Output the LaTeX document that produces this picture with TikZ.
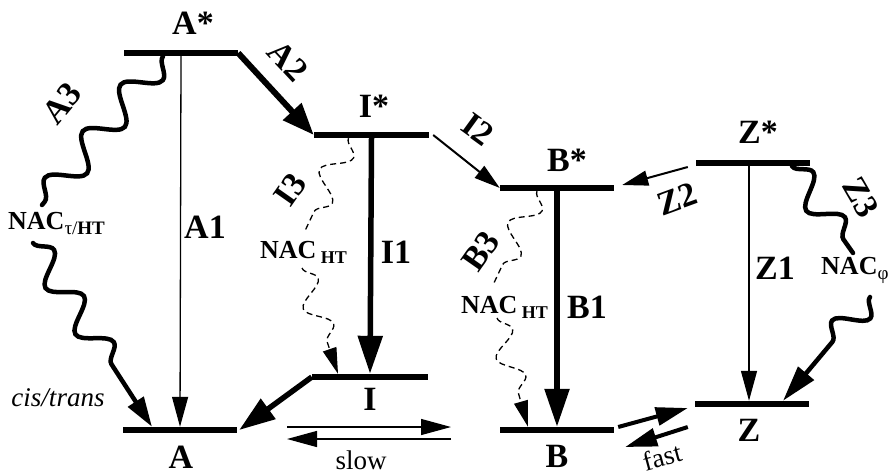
\documentclass[tikz,border=0pt]{standalone}
\usepackage{fontspec}
\setmainfont{Liberation Serif}
\usetikzlibrary{arrows.meta,decorations.pathmorphing,calc}
\begin{document}
\begin{tikzpicture}[x=1pt,y=-1pt,
  bar/.style={fill=black,draw=none,rectangle,inner sep=0pt,minimum height=6pt,minimum width=114pt},
  lbl/.style={font=\fontsize{34}{36}\selectfont\bfseries,inner sep=0pt},
  nac/.style={font=\fontsize{26}{28}\selectfont\bfseries,inner sep=0pt},
  txt/.style={font=\fontsize{27}{29}\selectfont,inner sep=0pt},
  thinarr/.style={line width=1.3pt,-{Triangle[length=30pt,width=16pt]}},
  thickarr/.style={line width=5.5pt,-{Triangle[length=38pt,width=24pt]}},
  midarr/.style={line width=2pt,-{Triangle[length=26pt,width=15pt]}},
  fastarr/.style={line width=4pt,-{Triangle[length=32pt,width=18pt]}},
  wavy/.style={line width=4.5pt,line cap=round,decorate,decoration={snake,amplitude=15pt,segment length=60pt}},
  dwavy/.style={line width=1.3pt,dash pattern=on 6pt off 4pt,decorate,decoration={snake,amplitude=13pt,segment length=50pt}}
]
\useasboundingbox (0,0) rectangle (893,475);

% levels
\node[bar] (As) at (181,53) {};
\node[bar] (A)  at (180,430) {};
\node[bar,minimum width=115pt] (Is) at (371.5,135) {};
\node[bar,minimum width=116pt] (I)  at (370,377) {};
\node[bar] (Bs) at (557,188) {};
\node[bar] (B)  at (557,430) {};
\node[bar] (Zs) at (753,163) {};
\node[bar] (Z)  at (752,404) {};

% level labels
\node[lbl] (lAs) at (193,23) {A*};
\node[lbl] (lA)  at (181,457) {A};
\node[lbl] (lIs) at (374,106) {I*};
\node[lbl] (lI)  at (370,399) {I};
\node[lbl] (lBs) at (567,160) {B*};
\node[lbl] (lB)  at (557,456) {B};
\node[lbl] (lZs) at (758,132) {Z*};
\node[lbl] (lZ)  at (749,430) {Z};

% straight transitions
\draw[thinarr] (As.south) -- (A.north);
\draw[line width=6pt,-{Triangle[length=32pt,width=24pt]}] (As.east) -- (Is.west);
\draw[thickarr] (Is.south) -- (I.north);
\draw[midarr] ([xshift=4pt]Is.east) -- (Bs.west);
\draw[thickarr] (Bs.south) -- (B.north);
\draw[midarr] ([xshift=-8pt,yshift=-4pt]Zs.west) -- ([xshift=8pt,yshift=3pt]Bs.east);
\draw[thinarr] ([xshift=-4pt]Zs.south) -- ([xshift=-3pt]Z.north);
\draw[line width=5.5pt,-{Triangle[length=36pt,width=24pt]}] (I.west) -- ([xshift=2pt]A.east);

% slow
\coordinate (s1) at (287,427);
\coordinate (s2) at (451,427);
\coordinate (s3) at (451,439);
\coordinate (s4) at (287,439);
\draw[thinarr] (s1) -- (s2);
\draw[thinarr] (s3) -- (s4);
\node[txt] (slow) at (361,460) {slow};

% fast
\draw[fastarr] ([xshift=4pt,yshift=3pt]B.east) -- ([xshift=-7pt,yshift=-4pt]Z.west);
\draw[fastarr] ([xshift=-7pt,yshift=-23pt]Z.west) -- ([xshift=11pt,yshift=-17pt]B.east);
\node[txt,rotate=15] (fast) at (662,457) {fast};

% transition labels
\node[lbl] (lA1) at (205,227) {A1};
\node[lbl,rotate=-47] (lA2) at (288,61) {A2};
\node[lbl,rotate=50] (lA3) at (62,103) {A3};
\node[lbl] (lI1) at (396,252) {I1};
\node[lbl,rotate=-36] (lI2) at (478,129) {I2};
\node[lbl,rotate=55] (lI3) at (290,190) {I3};
\node[lbl] (lB1) at (587,307) {B1};
\node[lbl,rotate=55] (lB3) at (481,251) {B3};
\node[lbl] (lZ1) at (775,268) {Z1};
\node[lbl,rotate=20] (lZ2) at (677,199) {Z2};
\node[lbl,rotate=-60] (lZ3) at (861,197) {Z3};

% NAC labels
\node[nac,anchor=west] (nacA) at (8,223) {NAC\raisebox{-5pt}{\fontsize{19}{19}\selectfont\mdseries τ/\textbf{HT}}};
\node[nac,anchor=east] (nacI) at (347,252) {NAC\,\raisebox{-5pt}{\fontsize{18}{18}\selectfont HT}};
\node[nac,anchor=east] (nacB) at (548,307) {NAC\,\raisebox{-5pt}{\fontsize{18}{18}\selectfont HT}};
\node[nac,anchor=west] (nacZ) at (821,270) {NAC\raisebox{-5pt}{\fontsize{19}{19}\selectfont\mdseries φ}};
\node[txt,font=\fontsize{27}{29}\selectfont\itshape] (cis) at (58,398) {cis/trans};

% wavy A3
\coordinate (a3a) at (42,205);
\coordinate (a3b) at (33,243);
\draw[wavy] ([xshift=-18pt]As.south) -- (a3a);
\draw[wavy,decoration={snake,amplitude=14pt,segment length=55pt,post length=60pt},-{Triangle[length=30pt,width=18pt]}] (a3b) -- ([xshift=-28pt]A.north);

% dashed I3
\coordinate (i3a) at (304,233);
\coordinate (i3b) at (302,268);
\draw[dwavy] ([xshift=-23pt]Is.south) -- (i3a);
\draw[dwavy,decoration={snake,amplitude=12pt,segment length=48pt,post length=28pt},-{Triangle[length=26pt,width=14pt]}] (i3b) -- ([xshift=-32pt]I.north);

% dashed B3
\coordinate (b3a) at (493,285);
\coordinate (b3b) at (497,318);
\draw[dwavy] ([xshift=-20pt]Bs.south) -- (b3a);
\draw[dwavy,decoration={snake,amplitude=12pt,segment length=48pt,post length=28pt},-{Triangle[length=26pt,width=14pt]}] (b3b) -- ([xshift=-29pt]B.north);

% wavy Z3
\coordinate (z3a) at (853,253);
\coordinate (z3b) at (870,297);
\draw[wavy,decoration={snake,amplitude=14pt,segment length=55pt}] ([xshift=39pt]Zs.south) -- (z3a);
\draw[wavy,decoration={snake,amplitude=14pt,segment length=52pt,post length=52pt},-{Triangle[length=36pt,width=20pt]}] (z3b) -- ([xshift=31pt]Z.north);
\end{tikzpicture}
\end{document}
